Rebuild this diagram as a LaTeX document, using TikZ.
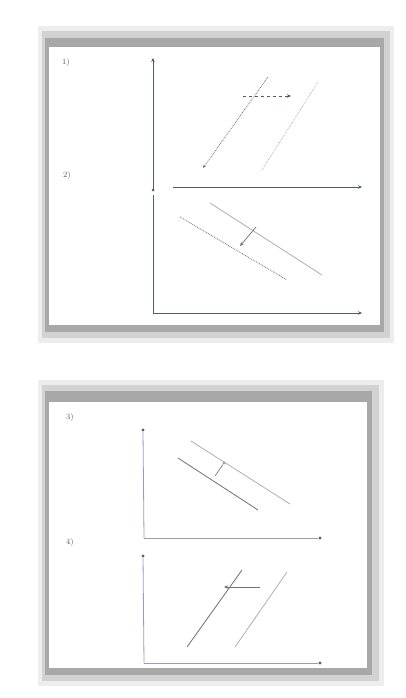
\documentclass[tikz,border=0pt]{standalone}
\usetikzlibrary{arrows.meta}
\definecolor{frameA}{HTML}{EDEDED}
\definecolor{frameB}{HTML}{D2D2D2}
\definecolor{frameC}{HTML}{A8A8A8}
\definecolor{axisT}{HTML}{4F5C70}
\definecolor{axisB}{HTML}{9A9AC4}
\definecolor{lineG}{HTML}{707070}
\definecolor{lineL}{HTML}{A8A8A8}
\tikzset{
  axT/.style={draw=axisT, line width=0.9pt, -{Stealth[length=4pt,width=3.5pt]}},
  axB/.style={draw=axisB, line width=0.8pt},
  endpt/.style={circle, fill=axisB!60!black, inner sep=0pt, minimum size=3.2pt},
  lbl/.style={font=\footnotesize, text=black!65, inner sep=0pt},
  lnD/.style={draw=lineG, line width=0.8pt},
  lnL/.style={draw=lineL, line width=0.7pt},
  arr/.style={draw=lineG, line width=0.7pt, -{Stealth[length=4pt,width=3.5pt]}},
}
\begin{document}
\begin{tikzpicture}[x=1pt,y=-1pt]
\useasboundingbox (0,0) rectangle (406,698);
\fill[white] (0,0) rectangle (406,698);
% ---------- top frame ----------
\fill[frameA] (38,26) rectangle (394,343);
\fill[frameB] (42,31) rectangle (390,338);
\fill[frameC] (45,38) rectangle (384,332);
\fill[white] (49,47) rectangle (380,325);
% ---------- bottom frame ----------
\fill[frameA] (38,380) rectangle (384,686);
\fill[frameB] (42,385) rectangle (379,681);
\fill[frameC] (45,391) rectangle (372,675);
\fill[white] (49,402) rectangle (367,668);

% ---------- labels ----------
\node[lbl] (l1) at (66,63) {1)};
\node[lbl] (l2) at (67,175) {2)};
\node[lbl] (l3) at (70,417) {3)};
\node[lbl] (l4) at (70,542) {4)};

% ---------- panel 1 axes ----------
\coordinate (o1) at (153,190);
\coordinate (y1) at (153,58);
\coordinate (x1s) at (173,187);
\coordinate (x1) at (362,187);
\draw[axT] (o1) -- (y1);
\fill[axisT] (o1) circle (1.5pt);
\draw[axT] (x1s) -- (x1);

% panel 1 lines
\coordinate (a1) at (203,168);
\coordinate (a2) at (268,77);
\coordinate (b1) at (262,170);
\coordinate (b2) at (318,82);
\draw[lnD, densely dotted, -{Stealth[length=3.5pt,width=3pt]}] (a2) -- (a1);
\draw[lnL, densely dotted] (b1) -- (b2);
\coordinate (d1) at (243,96);
\coordinate (d2) at (291,96);
\draw[draw=axisT, line width=0.8pt, dashed, -{Stealth[length=4pt,width=3.5pt]}] (d1) -- (d2);

% ---------- panel 2 axes ----------
\coordinate (o2) at (153,313);
\coordinate (y2) at (153,195);
\coordinate (x2) at (362,313);
\draw[axT] (y2) -- (o2) -- (x2);

% panel 2 lines
\coordinate (c1) at (180,217);
\coordinate (c2) at (287,280);
\coordinate (e1) at (210,203);
\coordinate (e2) at (322,275);
\draw[lnD, densely dotted] (c1) -- (c2);
\draw[lnL] (e1) -- (e2);
\coordinate (f1) at (256,227);
\coordinate (f2) at (240,246);
\draw[arr] (f1) -- (f2);

% ---------- panel 3 axes ----------
\node[endpt] (y3) at (143,430) {};
\coordinate (o3) at (144,538);
\node[endpt] (x3) at (320,538) {};
\draw[axB] (y3) -- (o3);
\draw[axB] (o3) -- (x3);

% panel 3 lines
\coordinate (g1) at (178,458);
\coordinate (g2) at (258,510);
\coordinate (h1) at (191,441);
\coordinate (h2) at (290,504);
\draw[lnD] (g1) -- (g2);
\draw[lnL] (h1) -- (h2);
\coordinate (k1) at (215,476);
\node[endpt, fill=axisB] (k2) at (224,463) {};
\draw[draw=lineG, line width=0.6pt] (k1) -- (k2);

% ---------- panel 4 axes ----------
\node[endpt] (y4) at (143,556) {};
\coordinate (o4) at (144,663);
\node[endpt] (x4) at (320,663) {};
\draw[axB] (y4) -- (o4);
\draw[axB] (o4) -- (x4);

% panel 4 lines
\coordinate (m1) at (187,647);
\coordinate (m2) at (242,570);
\coordinate (n1) at (235,647);
\coordinate (n2) at (287,572);
\draw[lnD] (m1) -- (m2);
\draw[lnL] (n1) -- (n2);
\coordinate (p1) at (260,587);
\coordinate (p2) at (224,587);
\draw[draw=lineG, line width=0.6pt, -{Stealth[length=4pt,width=3.5pt]}] (p1) -- (p2);
\end{tikzpicture}
\end{document}
